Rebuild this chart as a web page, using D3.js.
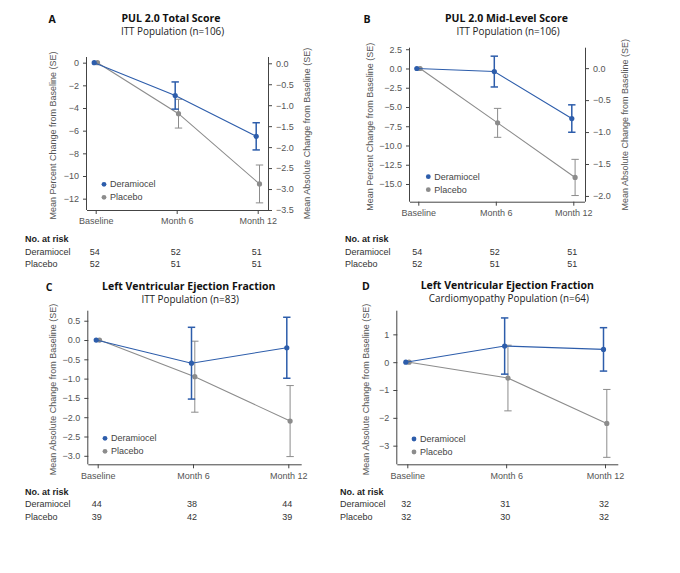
<!DOCTYPE html>
<html>
<head>
<meta charset="utf-8">
<script src="https://cdn.jsdelivr.net/npm/d3@7"></script>
<style>
  body { margin: 0; background: #fff; }
  svg text { font-family: "Liberation Sans", Arial, sans-serif; }
  .ttl { font-family: "Open Sans", sans-serif !important; }
</style>
</head>
<body>
<div id="chart"></div>
<script>
// categories
var timepoints = ["Baseline", "Month 6", "Month 12"];
var seriesNames = ["Deramiocel", "Placebo"];

// A - PUL 2.0 total score (percent change)
var aDeramiocel = [0, -2.9, -6.5];
var aDeramiocelSE = [0, 1.2, 1.2];
var aPlacebo = [0, -4.5, -10.7];
var aPlaceboSE = [0, 1.27, 1.67];
var aRiskDeramiocel = [54, 52, 51];
var aRiskPlacebo = [52, 51, 51];
var aLeftTicks = [0, -2, -4, -6, -8, -10, -12];
var aRightTicks = [0, -0.5, -1, -1.5, -2, -2.5, -3, -3.5];

// B - PUL 2.0 mid-level score
var bDeramiocel = [0, -0.4, -6.5];
var bDeramiocelSE = [0, 2.0, 1.78];
var bPlacebo = [0, -7.06, -14.15];
var bPlaceboSE = [0, 1.88, 2.35];
var bRiskDeramiocel = [54, 52, 51];
var bRiskPlacebo = [52, 51, 51];
var bLeftTicks = [2.5, 0, -2.5, -5, -7.5, -10, -12.5, -15];
var bRightTicks = [0, -0.5, -1, -1.5, -2];

// C - LVEF, ITT
var cDeramiocel = [0, -0.6, -0.2];
var cDeramiocelSE = [0, 0.93, 0.79];
var cPlacebo = [0, -0.95, -2.1];
var cPlaceboSE = [0, 0.92, 0.92];
var cRiskDeramiocel = [44, 38, 44];
var cRiskPlacebo = [39, 42, 39];
var cLeftTicks = [0.5, 0, -0.5, -1, -1.5, -2, -2.5, -3];

// D - LVEF, cardiomyopathy
var dDeramiocel = [0, 0.58, 0.46];
var dDeramiocelSE = [0, 1.01, 0.78];
var dPlacebo = [0, -0.57, -2.2];
var dPlaceboSE = [0, 1.18, 1.22];
var dRiskDeramiocel = [32, 31, 32];
var dRiskPlacebo = [32, 30, 32];
var dLeftTicks = [1, 0, -1, -2, -3];

var blue = "#2d5dab", gray = "#8c8c8c", axisCol = "#444", txtCol = "#555";

var svg = d3.select("#chart").append("svg")
    .attr("width", 680)
    .attr("height", 573);

var panels = [
  {letter: "A", title: "PUL 2.0 Total Score", sub: "ITT Population (n=106)",
   left: 87, right: 268, top: 57, bottom: 210, x0: 95.7, x1: 257.7,
   yDomain: [-13, 0.5], yTicks: aLeftTicks, yFmt: d3.format("d"),
   rDomain: [-3.5, 0.15], rTicks: aRightTicks,
   yTitle: "Mean Percent Change from Baseline (SE)", yTitleX: 53,
   rTitle: "Mean Absolute Change from Baseline (SE)", rTitleX: 307,
   dera: aDeramiocel, deraSE: aDeramiocelSE, plac: aPlacebo, placSE: aPlaceboSE,
   riskD: aRiskDeramiocel, riskP: aRiskPlacebo,
   cx: 171, letterX: 52, legX: 104, legY: 184.3, tableX: 25, tableY: 239},
  {letter: "B", title: "PUL 2.0 Mid-Level Score", sub: "ITT Population (n=106)",
   left: 410, right: 585, top: 47.7, bottom: 201.7, x0: 418.3, x1: 573.3,
   yDomain: [-17.3, 2.7], yTicks: bLeftTicks, yFmt: d3.format(".1f"),
   rDomain: [-2.09, 0.32], rTicks: bRightTicks,
   yTitle: "Mean Percent Change from Baseline (SE)", yTitleX: 370,
   rTitle: "Mean Absolute Change from Baseline (SE)", rTitleX: 625,
   dera: bDeramiocel, deraSE: bDeramiocelSE, plac: bPlacebo, placSE: bPlaceboSE,
   riskD: bRiskDeramiocel, riskP: bRiskPlacebo,
   cx: 506.5, letterX: 367, legX: 428.3, legY: 176.7, tableX: 345, tableY: 239},
  {letter: "C", title: "Left Ventricular Ejection Fraction", sub: "ITT Population (n=83)",
   left: 88.3, right: 301.7, top: 310.7, bottom: 464.3, x0: 97.7, x1: 288.3,
   yDomain: [-3.22, 0.76], yTicks: cLeftTicks, yFmt: d3.format(".1f"),
   yTitle: "Mean Absolute Change from Baseline (SE)", yTitleX: 53,
   dera: cDeramiocel, deraSE: cDeramiocelSE, plac: cPlacebo, placSE: cPlaceboSE,
   riskD: cRiskDeramiocel, riskP: cRiskPlacebo,
   cx: 188.7, letterX: 49, legX: 105, legY: 438.3, tableX: 25, tableY: 491.7, titleY: 286},
  {letter: "D", title: "Left Ventricular Ejection Fraction", sub: "Cardiomyopathy Population (n=64)",
   left: 397.3, right: 618.3, top: 310.7, bottom: 464.3, x0: 407.3, x1: 605,
   yDomain: [-3.67, 1.85], yTicks: dLeftTicks, yFmt: d3.format("d"),
   yTitle: "Mean Absolute Change from Baseline (SE)", yTitleX: 366,
   dera: dDeramiocel, deraSE: dDeramiocelSE, plac: dPlacebo, placSE: dPlaceboSE,
   riskD: dRiskDeramiocel, riskP: dRiskPlacebo,
   cx: 507.3, letterX: 366, legX: 414, legY: 439, tableX: 340, tableY: 491.7, titleY: 285}
];

panels.forEach(function(p) {
  var g = svg.append("g");
  var titleY = p.titleY || 18;

  // letter + titles
  g.append("text").attr("class", "ttl")
    .attr("x", p.letterX).attr("y", titleY + 1).attr("dy", "0.35em")
    .attr("text-anchor", "middle")
    .style("font-size", "10.5px").style("font-weight", "bold").attr("fill", "#111")
    .text(p.letter);
  g.append("text").attr("class", "ttl")
    .attr("x", p.cx).attr("y", titleY).attr("dy", "0.35em")
    .attr("text-anchor", "middle")
    .style("font-size", "10.5px").style("font-weight", "bold").attr("fill", "#111")
    .text(p.title);
  g.append("text").attr("class", "ttl")
    .attr("x", p.cx + 1.5).attr("y", titleY + 13.5).attr("dy", "0.35em")
    .attr("text-anchor", "middle")
    .style("font-size", "9.9px").attr("fill", "#222")
    .text(p.sub);

  // scales
  var x = d3.scalePoint().domain(timepoints).range([p.x0, p.x1]);
  var y = d3.scaleLinear().domain(p.yDomain).range([p.bottom, p.top]);

  // x axis
  var xAxis = g.append("g")
    .attr("transform", "translate(0," + p.bottom + ")")
    .call(d3.axisBottom(x).tickSize(4).tickPadding(4));
  xAxis.select(".domain").attr("d", "M" + p.left + ",0.5H" + p.right);

  // left y axis
  var yAxis = g.append("g")
    .attr("transform", "translate(" + p.left + ",0)")
    .call(d3.axisLeft(y).tickValues(p.yTicks).tickFormat(p.yFmt).tickSize(4).tickPadding(4));
  yAxis.select(".domain").attr("d", "M-0.5," + p.top + "V" + p.bottom);

  // right axis (PUL panels)
  if (p.rDomain) {
    var yr = d3.scaleLinear().domain(p.rDomain).range([p.bottom, p.top]);
    var rAxis = g.append("g")
      .attr("transform", "translate(" + p.right + ",0)")
      .call(d3.axisRight(yr).tickValues(p.rTicks).tickFormat(d3.format(".1f")).tickSize(4).tickPadding(4));
    rAxis.select(".domain").attr("d", "M0.5," + p.top + "V" + p.bottom);
    g.append("text")
      .attr("transform", "translate(" + p.rTitleX + "," + ((p.top + p.bottom) / 2) + ") rotate(-90)")
      .attr("text-anchor", "middle").attr("dy", "0.35em")
      .style("font-size", "9px").attr("fill", txtCol)
      .text(p.rTitle);
  }

  g.selectAll(".domain, .tick line").attr("stroke", axisCol);
  g.selectAll(".tick text").attr("fill", txtCol)
    .style("font-size", "9px").style("font-family", "'Liberation Sans', Arial, sans-serif");

  // y title
  g.append("text")
    .attr("transform", "translate(" + p.yTitleX + "," + ((p.top + p.bottom) / 2 + 2) + ") rotate(-90)")
    .attr("text-anchor", "middle").attr("dy", "0.35em")
    .style("font-size", "9px").attr("fill", txtCol)
    .text(p.yTitle);

  // series
  var sets = [
    {name: seriesNames[1], vals: p.plac, se: p.placSE, col: gray, off: 1.8, sw: 1},
    {name: seriesNames[0], vals: p.dera, se: p.deraSE, col: blue, off: -1.5, sw: 1.5}
  ];
  sets.forEach(function(s) {
    var pts = timepoints.map(function(t, i) {
      return {t: t, v: s.vals[i], se: s.se[i]};
    });
    var px = function(d) { return x(d.t) + s.off; };
    g.append("path").datum(pts)
      .attr("fill", "none").attr("stroke", s.col).attr("stroke-width", 1.1)
      .attr("d", d3.line().x(px).y(function(d) { return y(d.v); }));
    var eb = g.append("g").selectAll("g")
      .data(pts.filter(function(d) { return d.se > 0; }))
      .enter().append("g")
      .attr("stroke", s.col).attr("stroke-width", s.sw);
    eb.append("line")
      .attr("x1", px).attr("x2", px)
      .attr("y1", function(d) { return y(d.v + d.se); })
      .attr("y2", function(d) { return y(d.v - d.se); });
    eb.append("line")
      .attr("x1", function(d) { return px(d) - 3.7; }).attr("x2", function(d) { return px(d) + 3.7; })
      .attr("y1", function(d) { return y(d.v + d.se); })
      .attr("y2", function(d) { return y(d.v + d.se); });
    eb.append("line")
      .attr("x1", function(d) { return px(d) - 3.7; }).attr("x2", function(d) { return px(d) + 3.7; })
      .attr("y1", function(d) { return y(d.v - d.se); })
      .attr("y2", function(d) { return y(d.v - d.se); });
    g.append("g").selectAll("circle")
      .data(pts).enter().append("circle")
      .attr("cx", px).attr("cy", function(d) { return y(d.v); })
      .attr("r", 2.6).attr("fill", s.col);
  });

  // legend
  var leg = g.append("g");
  [seriesNames[0], seriesNames[1]].forEach(function(n, i) {
    var ly = p.legY + i * 13;
    leg.append("circle").attr("cx", p.legX).attr("cy", ly).attr("r", 2.4)
      .attr("fill", i === 0 ? blue : gray);
    leg.append("text").attr("x", p.legX + 6).attr("y", ly).attr("dy", "0.35em")
      .style("font-size", "9px").attr("fill", "#444").text(n);
  });

  // numbers at risk
  var tb = g.append("g");
  tb.append("text").attr("x", p.tableX).attr("y", p.tableY).attr("dy", "0.35em")
    .style("font-size", "9px").style("font-weight", "bold").attr("fill", "#222")
    .text("No. at risk");
  [[seriesNames[0], p.riskD], [seriesNames[1], p.riskP]].forEach(function(r, i) {
    var ry = p.tableY + 12.5 * (i + 1);
    tb.append("text").attr("x", p.tableX).attr("y", ry).attr("dy", "0.35em")
      .style("font-size", "9px").attr("fill", "#333").text(r[0]);
    tb.selectAll(null).data(r[1]).enter().append("text")
      .attr("x", function(d, j) { return x(timepoints[j]) - 1; })
      .attr("y", ry).attr("dy", "0.35em")
      .attr("text-anchor", "middle")
      .style("font-size", "9px").attr("fill", "#333")
      .text(function(d) { return d; });
  });
});
</script>
</body>
</html>
